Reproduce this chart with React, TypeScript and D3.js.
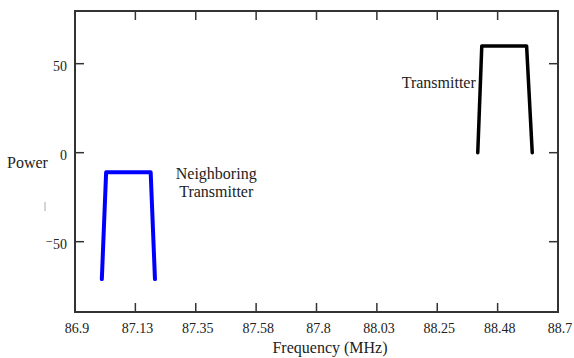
import React from "react";
import * as d3 from "d3";

// DATA
const xTickValues = [86.9, 87.125, 87.35, 87.575, 87.8, 88.025, 88.25, 88.475, 88.7];
const xTickLabels = ["86.9", "87.13", "87.35", "87.58", "87.8", "88.03", "88.25", "88.48", "88.7"];
const yTickValues = [-50, 0, 50];
const yTickLabels = ["\u207B50", "0", "50"];

const neighborFreq = [87.0, 87.016, 87.182, 87.198];
const neighborPower = [-71, -11, -11, -71];
const transmitterFreq = [88.401, 88.416, 88.583, 88.604];
const transmitterPower = [0, 60, 60, 0];

const W = 574;
const H = 358;
const margin = { top: 11, right: 16, bottom: 46, left: 75 };
const FONT = "Liberation Serif, DejaVu Serif, serif";

export default function App() {
  const width = W - margin.left - margin.right;
  const height = H - margin.top - margin.bottom;

  // SCALES
  const x = d3.scaleLinear().domain([86.9, 88.7]).range([0, width]);
  const y = d3.scaleLinear().domain([-89.5, 79.6]).range([height, 0]);

  const line = d3
    .line<[number, number]>()
    .x((d) => x(d[0]))
    .y((d) => y(d[1]));

  const neighbor = neighborFreq.map((f, i) => [f, neighborPower[i]] as [number, number]);
  const transmitter = transmitterFreq.map((f, i) => [f, transmitterPower[i]] as [number, number]);

  const axisColor = "#333";
  const tickLen = 9;
  const txt = { fontFamily: FONT, fill: "#222" };

  return (
    <svg
      width={W}
      height={H}
      style={{ position: "absolute", left: 0, top: 0, background: "#fff", fontFamily: FONT }}
    >
      <g transform={`translate(${margin.left},${margin.top})`}>
        {/* FRAME */}
        <rect x={0} y={0} width={width} height={height} fill="none" stroke={axisColor} strokeWidth={2} />

        {/* X TICKS (bottom + top, inward) */}
        {xTickValues.map((v, i) => (
          <g key={"x" + i}>
            <line x1={x(v)} x2={x(v)} y1={height} y2={height - tickLen} stroke={axisColor} strokeWidth={1.5} />
            <line x1={x(v)} x2={x(v)} y1={0} y2={tickLen} stroke={axisColor} strokeWidth={1.5} />
            <text x={x(v) + 2} y={height + 21} textAnchor="middle" fontSize={14} style={txt}>
              {xTickLabels[i]}
            </text>
          </g>
        ))}

        {/* Y TICKS (left + right, inward) */}
        {yTickValues.map((v, i) => (
          <g key={"y" + i}>
            <line x1={0} x2={tickLen} y1={y(v)} y2={y(v)} stroke={axisColor} strokeWidth={1.5} />
            <line x1={width} x2={width - tickLen} y1={y(v)} y2={y(v)} stroke={axisColor} strokeWidth={1.5} />
            <text x={-8} y={y(v) + 7.5} textAnchor="end" fontSize={14} style={txt}>
              {yTickLabels[i]}
            </text>
          </g>
        ))}

        {/* SERIES */}
        <path d={line(neighbor) ?? ""} fill="none" stroke="#0000ff" strokeWidth={4} strokeLinejoin="round" strokeLinecap="round" />
        <path d={line(transmitter) ?? ""} fill="none" stroke="#000" strokeWidth={3.5} strokeLinejoin="round" strokeLinecap="round" />

        {/* ANNOTATIONS */}
        <text x={x(88.401) - 2} y={y(60) + 42} textAnchor="end" fontSize={16} style={txt}>
          Transmitter
        </text>
        <text textAnchor="middle" fontSize={16} style={txt}>
          <tspan x={x(87.43) - 1} y={y(-11) + 7}>Neighboring</tspan>
          <tspan x={x(87.43) - 1} y={y(-11) + 24.5}>Transmitter</tspan>
        </text>
      </g>

      {/* AXIS LABELS */}
      <text x={7} y={168} fontSize={16} style={txt}>
        Power
      </text>
      <line x1={45} x2={45} y1={202} y2={211} stroke="#aaa" strokeWidth={1} />
      <text x={330} y={353} textAnchor="middle" fontSize={16} style={txt}>
        Frequency (MHz)
      </text>
    </svg>
  );
}
